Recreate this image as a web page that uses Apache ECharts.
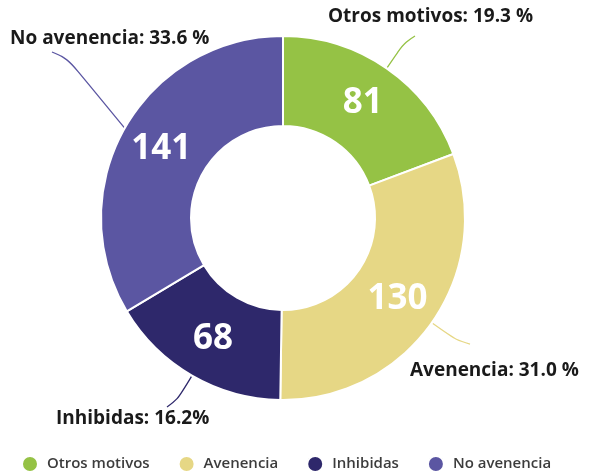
<!DOCTYPE html>
<html>
<head>
<meta charset="utf-8">
<script src="https://cdn.jsdelivr.net/npm/echarts@6/dist/echarts.min.js"></script>
<style>
  html, body { margin: 0; padding: 0; background: #fff; }
  #chart { width: 590px; height: 474px; }
</style>
</head>
<body>
<div id="chart"></div>
<script>
// datos del gráfico
var categories = ['Otros motivos', 'Avenencia', 'Inhibidas', 'No avenencia'];
var values = [81, 130, 68, 141];
var pctSep = [' %', ' %', '%', ' %']; // separador tal como aparece en la imagen
var palette = ['#95c245', '#e6d785', '#2e286b', '#5b56a2'];

var total = values.reduce(function (a, b) { return a + b; }, 0);

// posición (borde izquierdo, centro vertical) de las etiquetas exteriores y de sus líneas guía
var labelPos = [
  { x: 328, y: 17,  knee: [404, 43],  end: [415, 36] },
  { x: 410, y: 371, knee: [456, 340], end: [470, 344] },
  { x: 56,  y: 419, knee: [178, 399], end: [167, 407] },
  { x: 10,  y: 39,  knee: [68, 59],   end: [52, 52] }
];

var CX = 283, CY = 218;

var chart = echarts.init(document.getElementById('chart'));

var pieData = categories.map(function (name, i) {
  return { name: name, value: values[i], itemStyle: { color: palette[i] } };
});

var fontFam = '"Open Sans", "Noto Sans", sans-serif';

chart.setOption({
  animation: false,
  legend: {
    top: 450,
    left: 16,
    icon: 'circle',
    itemWidth: 16,
    itemHeight: 16,
    itemGap: 28,
    textStyle: {
      fontSize: 15, color: '#3c3c3c', fontWeight: 600, fontFamily: fontFam,
      padding: [0, 0, 0, 4]
    },
    data: categories
  },
  series: [
    {
      type: 'pie',
      center: [CX, CY],
      radius: [92, 182],
      startAngle: 90,
      clockwise: true,
      emphasis: { disabled: true },
      itemStyle: { borderColor: '#fff', borderWidth: 2 },
      label: {
        show: true,
        position: 'outside',
        overflow: 'none',
        color: '#1a1a1a',
        fontSize: 19,
        fontWeight: 700,
        fontFamily: fontFam,
        formatter: function (p) {
          return p.name + ': ' + (p.value / total * 100).toFixed(1) + pctSep[p.dataIndex];
        }
      },
      labelLine: { show: true, smooth: 0.35, lineStyle: { width: 1.3 } },
      labelLayout: function (p) {
        var pos = labelPos[p.dataIndex];
        var a = p.labelLinePoints ? p.labelLinePoints[0] : [CX, CY];
        return {
          x: pos.x, y: pos.y, align: 'left', verticalAlign: 'middle',
          labelLinePoints: [a, pos.knee, pos.end]
        };
      },
      data: pieData
    },
    {
      type: 'pie',
      center: [CX, CY],
      radius: [92, 182],
      startAngle: 90,
      clockwise: true,
      silent: true,
      emphasis: { disabled: true },
      itemStyle: { borderColor: '#fff', borderWidth: 2 },
      label: {
        show: true,
        position: 'inside',
        color: '#fff',
        fontSize: 35,
        fontWeight: 700,
        fontFamily: fontFam,
        formatter: '{c}'
      },
      labelLine: { show: false },
      data: pieData
    }
  ]
});
</script>
</body>
</html>
